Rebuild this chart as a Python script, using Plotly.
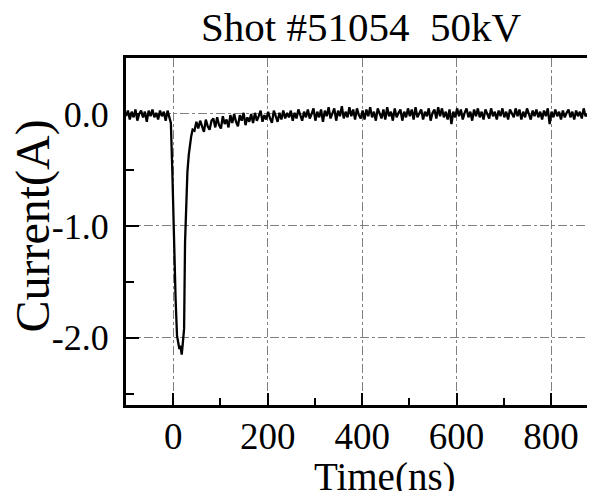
import numpy as np
import plotly.graph_objects as go

# ---- data ----
pre_start, pre_step = -100, 4
pre_current = [-0.02, 0.03, -0.05, 0.02, -0.03, 0.04, -0.06, 0.00, 0.03, -0.03,
               0.02, -0.07, 0.03, -0.02, 0.04, -0.03, 0.01, -0.05, 0.03, -0.02,
               0.02, -0.06, 0.03, -0.03]

spike_time = [-5, -2, 0, 3, 5, 8, 10, 13, 15, 18, 20, 23, 25, 28, 30, 33, 35, 38, 41]
spike_current = [-0.08, -0.5, -0.9, -1.35, -1.65, -1.98, -2.05, -2.1, -2.07, -2.15,
                 -2.06, -1.92, -1.15, -0.72, -0.52, -0.36, -0.27, -0.2, -0.14]

post_start, post_step = 45, 4
post_current = [
    -0.15, -0.07, -0.13, -0.06, -0.12, -0.16, -0.05, -0.11, -0.14, -0.06,
    -0.04, -0.12, -0.03, -0.10, -0.13, -0.02, -0.09, -0.05, -0.12, -0.01,
    -0.08, 0.00, -0.07, -0.11, -0.01, -0.06, 0.01, -0.10, -0.03, -0.07,
    0.00, -0.08, 0.01, -0.06, -0.02, 0.03, -0.07, -0.01, -0.05, 0.02,
    -0.04, -0.08, 0.03, -0.02, -0.07, 0.01, -0.05, 0.03, -0.04, 0.01,
    -0.03, 0.03, -0.06, 0.01, -0.04, 0.04, -0.02, -0.06, 0.02, -0.03,
    0.04, -0.04, 0.00, 0.05, -0.06, 0.02, -0.03, 0.04, -0.07, 0.03,
    -0.02, 0.06, -0.04, 0.01, 0.05, -0.06, 0.03, -0.02, 0.07, -0.04,
    0.02, -0.03, 0.06, -0.02, 0.04, -0.05, 0.05, -0.01, -0.04, 0.03,
    -0.05, 0.04, -0.02, 0.06, -0.03, 0.02, -0.06, 0.05, 0.00, -0.04,
    0.04, -0.05, 0.06, -0.02, 0.02, -0.06, 0.05, -0.03, 0.01, 0.04,
    -0.06, 0.02, -0.03, 0.05, -0.02, 0.04, -0.05, 0.06, -0.03, 0.01,
    0.04, -0.05, 0.02, -0.02, 0.05, -0.06, 0.01, 0.04, -0.04, 0.06,
    -0.02, 0.05, -0.03, 0.02, -0.05, 0.04, -0.09, 0.02, -0.03, 0.05,
    -0.02, 0.04, -0.05, 0.01, 0.05, -0.03, 0.02, -0.06, 0.04, -0.02,
    0.05, -0.03, 0.02, -0.05, 0.04, 0.00, -0.04, 0.05, -0.02, 0.02,
    -0.05, 0.03, -0.02, 0.05, -0.03, 0.02, -0.05, 0.04, 0.00, -0.03,
    0.05, -0.02, 0.04, -0.05, 0.02, -0.03, 0.05, 0.00, -0.05, 0.03,
    -0.02, 0.04, -0.03, 0.02, -0.05, 0.03, -0.02, 0.05, -0.09, 0.02,
    -0.03, 0.04, -0.02, 0.02, -0.05, 0.03, -0.03, 0.01, 0.04, -0.03,
    0.02, -0.05, 0.03, -0.02, 0.02, -0.04, 0.05, -0.02, 0.00, -0.03,
    0.02, -0.03, 0.03, -0.02,
]

x_tick_vals = [0, 200, 400, 600, 800]
x_tick_text = ["0", "200", "400", "600", "800"]
y_tick_vals = [0, -1, -2]
y_tick_text = ["0.0", "-1.0", "-2.0"]

title_text = "Shot #51054&nbsp;&nbsp;50kV"
x_title = "Time(ns)"
y_title = "Current(A)"

# ---- assemble series ----
pre_time = pre_start + pre_step * np.arange(len(pre_current))
post_time = post_start + post_step * np.arange(len(post_current))
time_ns = np.concatenate([pre_time, np.array(spike_time), post_time])
current_a = np.concatenate([np.array(pre_current), np.array(spike_current), np.array(post_current)])

FONT = "Liberation Serif"

fig = go.Figure()
fig.add_trace(go.Scatter(x=time_ns, y=current_a, mode="lines",
                         line=dict(color="black", width=2.3),
                         showlegend=False, hoverinfo="skip"))

# the page body adds an 8px offset, so the figure is sized to fit the window
fig.update_layout(
    width=587, height=483,
    margin=dict(l=118, r=0, t=50, b=86),
    paper_bgcolor="white", plot_bgcolor="white",
    font=dict(family=FONT, color="black"),
    showlegend=False,
)

fig.update_xaxes(
    range=[-100, 893], automargin=False,
    tickmode="array", tickvals=x_tick_vals, ticktext=x_tick_text,
    ticks="inside", ticklen=12, tickwidth=2, tickcolor="black",
    tickfont=dict(family=FONT, size=37, color="black"),
    ticklabelstandoff=-3,
    showline=True, linecolor="black", linewidth=3, mirror=True,
    showgrid=True, gridcolor="#808080", gridwidth=1, griddash="dashdot",
    zeroline=False,
    minor=dict(tickmode="linear", tick0=100, dtick=200, ticks="inside", ticklen=7,
               tickwidth=2, tickcolor="black", showgrid=False),
)
fig.update_yaxes(
    range=[-2.6, 0.5], automargin=False,
    tickmode="array", tickvals=y_tick_vals, ticktext=y_tick_text,
    ticks="inside", ticklen=13, tickwidth=2, tickcolor="black",
    tickfont=dict(family=FONT, size=36, color="black"),
    ticklabelstandoff=7,
    showline=True, linecolor="black", linewidth=3, mirror=False,
    showgrid=True, gridcolor="#808080", gridwidth=1, griddash="dashdot",
    zeroline=False,
    minor=dict(tickmode="linear", tick0=0.5, dtick=1, ticks="inside", ticklen=8,
               tickwidth=2, tickcolor="black", showgrid=False),
)

fig.add_annotation(text=title_text, xref="paper", yref="paper", x=0.5, y=1,
                   xanchor="center", yanchor="bottom", yshift=6, showarrow=False,
                   font=dict(family=FONT, size=41, color="black"))
fig.add_annotation(text=x_title, xref="paper", yref="paper", x=0.552, y=0,
                   xanchor="center", yanchor="top", yshift=-48, showarrow=False,
                   font=dict(family=FONT, size=39, color="black"))
fig.add_annotation(text=y_title, xref="paper", yref="paper", x=0, y=0.5,
                   xanchor="center", yanchor="middle", xshift=-94, yshift=5,
                   textangle=-90, showarrow=False,
                   font=dict(family=FONT, size=48, color="black"))

fig.write_html("out.html")
